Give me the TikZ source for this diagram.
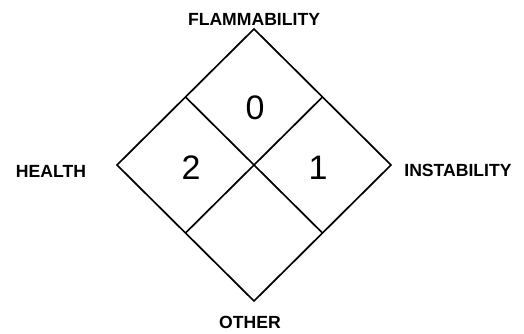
\documentclass[tikz,border=0pt]{standalone}
\usepackage{fontspec}
\setmainfont{Liberation Sans}
\usetikzlibrary{positioning}

\begin{document}
\begin{tikzpicture}[x=1pt, y=1pt,
  edge/.style={draw=black, line width=1.7pt, line join=miter},
  hazard/.style={font=\fontsize{17.6}{20}\selectfont\bfseries, inner sep=0pt},
  rating/.style={font=\fontsize{34}{40}\selectfont, inner sep=0pt},
]
\useasboundingbox (-254,-168) rectangle (270,165);
% diamond corners and edge midpoints
\coordinate (top) at (0,136);
\coordinate (right) at (137,0);
\coordinate (bottom) at (0,-136);
\coordinate (left) at (-137,0);
\coordinate (tl) at (-68.5,68);
\coordinate (tr) at (68.5,68);
\coordinate (bl) at (-68.5,-68);
\coordinate (br) at (68.5,-68);
\draw[edge] (top) -- (right) -- (bottom) -- (left) -- cycle;
\draw[edge] (tl) -- (br);
\draw[edge] (tr) -- (bl);
% ratings
\node[rating] (flam) at (1,57) {0};
\node[rating] (health) at (-63,-3) {2};
\node[rating] (inst) at (64,-3) {1};
% labels
\node[hazard] (flamlabel) at (0,145.5) {FLAMMABILITY};
\node[hazard] (healthlabel) at (-203,-6) {HEALTH};
\node[hazard] (instlabel) at (204,-5.5) {INSTABILITY};
\node[hazard] (otherlabel) at (-4,-157.5) {OTHER};
\end{tikzpicture}
\end{document}
